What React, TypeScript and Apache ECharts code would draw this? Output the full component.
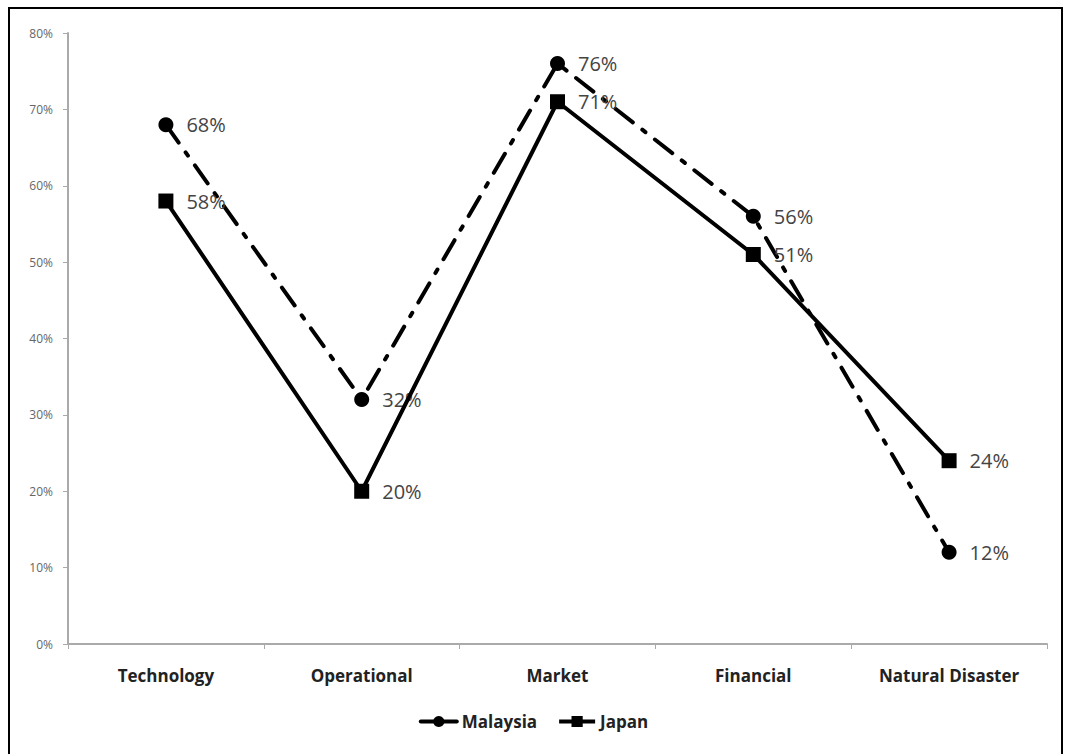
import React, { useEffect, useRef } from "react";
import * as echarts from "echarts";

const categories = ["Technology", "Operational", "Market", "Financial", "Natural Disaster"];
const malaysia = [68, 32, 76, 56, 12];
const japan = [58, 20, 71, 51, 24];
const yTicks = { min: 0, max: 80, interval: 10 };

export default function App() {
  const ref = useRef<HTMLDivElement>(null);
  useEffect(() => {
    if (!ref.current) return;
    const chart = echarts.init(ref.current, null, { renderer: "svg" });
    const labelStyle = {
      show: true,
      position: "right",
      distance: 13,
      formatter: "{c}%",
      fontSize: 20,
      color: "#444",
      fontFamily: "Open Sans",
    };
    chart.setOption({
      animation: false,
      backgroundColor: "#fff",
      graphic: [
        {
          type: "rect",
          shape: { x: 9, y: 8, width: 1053, height: 770 },
          style: { fill: "none", stroke: "#000", lineWidth: 2 },
          silent: true,
        },
      ],
      grid: { left: 68, right: 20, top: 33, bottom: 110 },
      xAxis: {
        type: "category",
        data: categories,
        boundaryGap: true,
        axisLine: { lineStyle: { color: "#aaa", width: 2 } },
        axisTick: { show: true, length: 5, lineStyle: { color: "#aaa", width: 1 } },
        axisLabel: {
          fontSize: 17,
          fontWeight: "bold",
          color: "#222",
          fontFamily: "Open Sans",
          margin: 23,
        },
      },
      yAxis: {
        type: "value",
        min: yTicks.min,
        max: yTicks.max,
        interval: yTicks.interval,
        axisLine: { show: true, lineStyle: { color: "#aaa", width: 2 } },
        axisTick: { show: true, length: 5, lineStyle: { color: "#aaa", width: 1 } },
        splitLine: { show: false },
        axisLabel: {
          formatter: "{value}%",
          fontSize: 12,
          color: "#666",
          fontFamily: "Open Sans",
          margin: 15,
        },
      },
      legend: {
        bottom: 19,
        left: "center",
        itemWidth: 36,
        itemHeight: 14,
        itemGap: 20,
        lineStyle: { type: "solid", width: 4 },
        textStyle: { fontSize: 17, fontWeight: "bold", color: "#222", fontFamily: "Open Sans" },
        data: ["Malaysia", "Japan"],
      },
      series: [
        {
          name: "Malaysia",
          type: "line",
          data: malaysia,
          symbol: "circle",
          symbolSize: 15,
          itemStyle: { color: "#000" },
          lineStyle: { color: "#000", width: 4, type: [22, 12, 4, 12], cap: "round" },
          label: labelStyle,
          z: 2,
        },
        {
          name: "Japan",
          type: "line",
          data: japan,
          symbol: "rect",
          symbolSize: 15,
          itemStyle: { color: "#000" },
          lineStyle: { color: "#000", width: 4 },
          label: labelStyle,
          z: 3,
        },
      ],
    });
    return () => chart.dispose();
  }, []);
  return (
    <div
      ref={ref}
      style={{ position: "fixed", left: 0, top: 0, width: 1067, height: 754 }}
    />
  );
}
